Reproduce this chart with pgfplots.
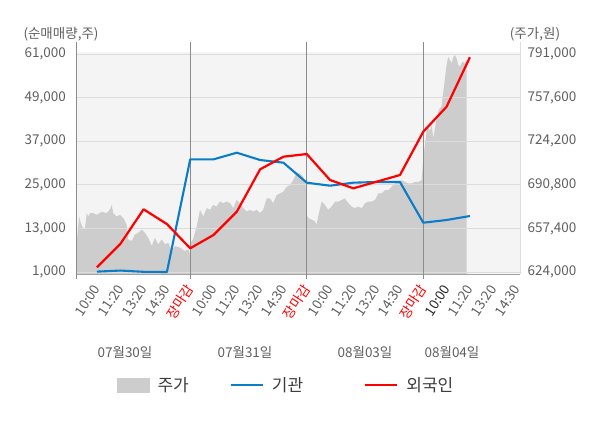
\documentclass[border=0pt]{standalone}
\usepackage{pgfplots}
\pgfplotsset{compat=1.18}
\usepackage{fontspec}
\setmainfont{Noto Sans CJK KR}
\definecolor{bgc}{HTML}{F4F4F4}
\definecolor{areac}{HTML}{CDCDCD}
\definecolor{gridc}{HTML}{DCDCDC}
\definecolor{sepc}{HTML}{8C8C8C}
\definecolor{tickc}{HTML}{5F5F5F}
\definecolor{blu}{HTML}{0A7CC8}
\definecolor{legc}{HTML}{3C3C3C}
\newcommand{\tfont}{\fontsize{13.5}{15}\selectfont}
\begin{document}
\begin{tikzpicture}
\useasboundingbox (0,0) rectangle (600pt,428pt);
% price area (right axis)
\begin{axis}[
  at={(76pt,154pt)}, anchor=south west,
  scale only axis, width=444pt, height=232pt,
  xmin=0.1, xmax=19.15, ymin=622468, ymax=800192,
  axis y line*=right, axis x line=none,
  y axis line style={draw=gridc, line width=0.8pt, -},
  ytick={624000,657400,690800,724200,757600,791000},
  scaled y ticks=false,
  major tick length=0pt,
  yticklabel style={font=\tfont, text=tickc, inner sep=0pt, anchor=west, xshift=7.5pt},
  /pgf/number format/.cd, fixed, precision=0, 1000 sep={,}, assume math mode=true, /pgfplots/.cd,
]
\fill[bgc] (axis cs:0.1,622468) rectangle (axis cs:19.15,792500);
\addplot[fill=areac, draw=none] table[x=x, y=y] {
x y
0.10 622468
0.10 633800
0.15 650400
0.24 666500
0.30 661800
0.39 658000
0.48 656500
0.56 669100
0.63 666500
0.70 669100
0.84 669100
0.99 667800
1.20 670100
1.42 669100
1.56 672100
1.63 675400
1.70 669100
1.84 666500
1.99 667800
2.13 665300
2.27 660300
2.34 648900
2.49 647700
2.63 652700
2.77 654000
2.92 656500
3.06 654000
3.20 650200
3.35 643900
3.49 650200
3.63 645200
3.78 648900
3.92 645200
4.06 646400
4.20 640100
4.35 643900
4.56 642700
4.77 640100
4.92 641400
4.99 637600
5.03 646700
5.12 648900
5.28 659000
5.42 671600
5.56 666500
5.71 672900
5.85 671600
5.99 675400
6.13 674100
6.28 677900
6.42 676700
6.56 677900
6.71 676700
6.85 672900
6.99 679200
7.13 676700
7.28 672900
7.42 670300
7.56 671600
7.70 670300
7.85 671600
7.99 669100
8.13 671600
8.28 680400
8.42 680400
8.56 676700
8.71 682900
8.85 684200
8.99 685400
9.14 689200
9.28 690500
9.42 694300
9.57 700500
9.71 699300
9.85 696800
9.95 693000
10.00 667800
10.06 665300
10.21 664100
10.35 662800
10.42 660300
10.49 666500
10.64 677900
10.78 675400
10.92 671600
11.07 674100
11.21 677900
11.35 677900
11.50 679200
11.64 680400
11.78 676700
11.93 674100
12.07 672900
12.21 674100
12.36 672900
12.50 676700
12.64 677900
12.78 677900
12.93 679200
13.07 684200
13.21 684200
13.36 686700
13.50 686700
13.64 689200
13.78 691800
13.93 693000
14.07 694300
14.21 693000
14.36 691800
14.50 691800
14.64 693000
14.78 693000
14.93 694300
15.00 711100
15.07 721300
15.14 731500
15.21 736600
15.28 731500
15.36 736600
15.43 726400
15.50 734000
15.57 741700
15.64 746800
15.71 749500
15.78 750700
15.86 762100
15.93 772400
16.00 782600
16.07 788900
16.14 786500
16.22 783900
16.29 788900
16.36 790200
16.43 787700
16.50 782600
16.57 781300
16.64 783900
16.71 785100
16.79 783900
16.86 786500
16.86 622468
} \closedcycle;
\end{axis}
% net buying lines (left axis)
\begin{axis}[
  at={(76pt,154pt)}, anchor=south west,
  scale only axis, width=444pt, height=232pt,
  xmin=0.1, xmax=19.15, ymin=450, ymax=64300,
  axis x line*=bottom, axis y line*=left,
  axis line style={-},
  x axis line style={draw=sepc!80, line width=0.8pt},
  y axis line style={draw=sepc, line width=0.8pt},
  xtick={1,...,19},
  xticklabels={10:00,11:20,13:20,14:30,\textcolor{red}{장마감},10:00,11:20,13:20,14:30,\textcolor{red}{장마감},10:00,11:20,13:20,14:30,\textcolor{red}{장마감},\textcolor{black!85}{10:00},11:20,13:20,14:30},
  xticklabel style={font=\tfont, text=tickc, rotate=57, anchor=east, inner sep=0pt},
  xticklabel shift=12pt,
  extra x ticks={0.1,5,10,15},
  extra x tick labels={},
  extra x tick style={grid=major, major grid style={draw=sepc, line width=0.8pt}, major tick length=5pt, tick align=outside, tick style={draw=sepc, line width=0.8pt}},
  ytick={1000,13000,25000,37000,49000,61000},
  ymajorgrids, major grid style={draw=gridc, line width=0.8pt},
  major tick length=0pt,
  scaled y ticks=false,
  yticklabel style={font=\tfont, text=tickc, anchor=east, xshift=-10pt, inner sep=0pt},
  /pgf/number format/.cd, fixed, precision=0, 1000 sep={,}, assume math mode=true, /pgfplots/.cd,
  legend style={at={(axis description cs:0.0856,-0.478)}, anchor=west, draw=none, fill=none,
    font=\fontsize{17}{19}\selectfont, text=legc, legend columns=3,
    nodes={inner sep=0pt},
    /tikz/every odd column/.append style={column sep=8pt},
    /tikz/column 2/.append style={column sep=41pt},
    /tikz/column 4/.append style={column sep=61pt}},
  legend cell align=left,
  legend image code/.code={\draw[#1] (0pt,0pt) -- (32pt,0pt);},
]
\addlegendimage{legend image code/.code={\fill[areac] (0pt,-7pt) rectangle (32pt,7pt);}}
\addlegendentry{주가}
\addplot[blu, line width=2.1pt, line join=round] coordinates {
(1,1100)(2,1400)(3,1050)(4,1000)(5,32000)(6,32000)(7,33830)(8,31820)(9,31080)(10,25580)(11,24750)(12,25580)(13,25770)(14,25770)(15,14570)(16,15310)(17,16410)};
\addlegendentry{기관}
\addplot[red, line width=2.2pt, line join=round] coordinates {
(1,2290)(2,8700)(3,18250)(4,14200)(5,7520)(6,11180)(7,17590)(8,29260)(9,32730)(10,33470)(11,26320)(12,24030)(13,25850)(14,27690)(15,39610)(16,46490)(17,60090)};
\addlegendentry{외국인}
\end{axis}
\node[font=\tfont, text=tickc] at (61pt,394pt) {(순매매량,주)};
\node[font=\tfont, text=tickc] at (535pt,394pt) {(주가,원)};
\node[font=\tfont, text=tickc] at (125pt,76pt) {07월30일};
\node[font=\tfont, text=tickc] at (245pt,76pt) {07월31일};
\node[font=\tfont, text=tickc] at (365pt,76pt) {08월03일};
\node[font=\tfont, text=tickc] at (452pt,76pt) {08월04일};
\end{tikzpicture}
\end{document}
